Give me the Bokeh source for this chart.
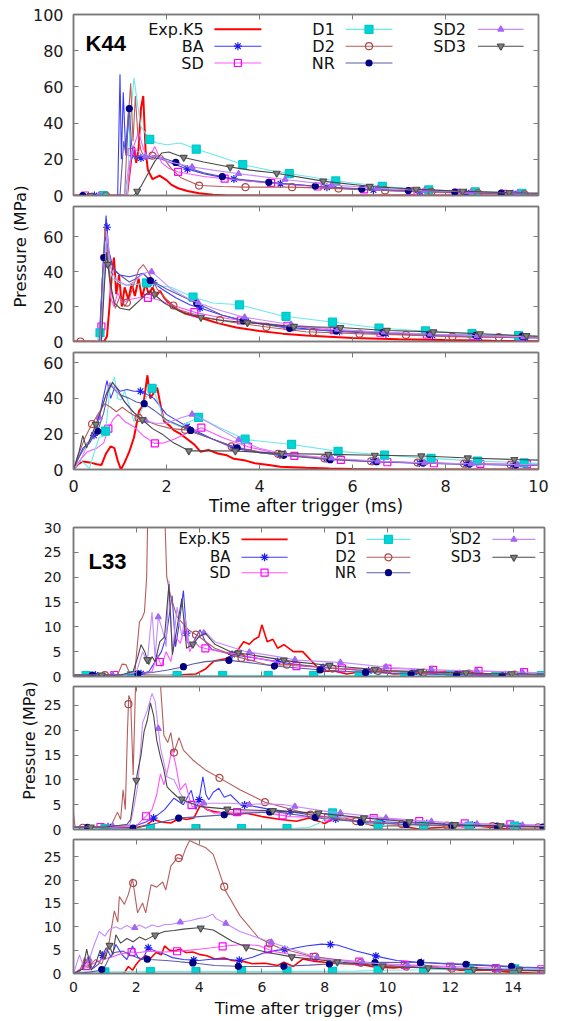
import numpy as np
from bokeh.plotting import figure
from bokeh.layouts import column, row
from bokeh.models import Range1d, LinearAxis, FixedTicker, Label
from bokeh.core.properties import value
from bokeh.embed import file_html
from bokeh.resources import INLINE

# ---------------- data ----------------
series_names = ["Exp.K5", "BA", "SD", "D1", "D2", "NR", "SD2", "SD3"]
x_ticks_k44 = [0, 2, 4, 6, 8, 10]
x_ticks_l33 = [0, 2, 4, 6, 8, 10, 12, 14]
y_ticks_k1 = [0, 20, 40, 60, 80, 100]
y_ticks_k23 = [0, 20, 40, 60]
y_ticks_l1 = [0, 5, 10, 15, 20, 25, 30]
y_ticks_l23 = [0, 5, 10, 15, 20, 25]
x_title = "Time after trigger (ms)"
y_title = "Pressure (MPa)"

# ---- K44, top panel ----
k1_exp_t = [0, 1.15, 1.25, 1.3, 1.35, 1.4, 1.45, 1.5, 1.55, 1.6, 1.7, 1.85, 2.0, 2.1, 2.25, 2.45, 2.7, 3.0, 3.3, 4.0, 10]
k1_exp_p = [0, 0, 22, 27, 18, 26, 48, 55, 25, 14, 9, 11, 8.5, 6, 4, 2.5, 1.2, 0.4, 0, 0, 0]
k1_ba_t = [0, 0.95, 1.0, 1.03, 1.07, 1.12, 1.18, 1.24, 1.3, 1.4, 1.55, 1.7, 1.9, 2.1, 2.4, 2.8, 3.2, 3.6, 4.2, 5.0, 6.0, 7.0, 8.0, 9.0, 10.0]
k1_ba_p = [0, 0, 67, 20, 57, 25, 46, 20, 22, 21, 20, 21, 20, 18, 15, 12, 10, 8.5, 7, 5.5, 3.5, 2.5, 1.8, 1.2, 0.8]
k1_sd_t = [0, 1.15, 1.25, 1.4, 1.5, 1.6, 1.75, 1.9, 2.05, 2.25, 2.8, 3.35, 4.0, 4.7, 5.5, 6.5, 7.5, 8.5, 9.5, 10]
k1_sd_p = [0, 0, 24, 35, 26, 20, 27, 18, 15, 13, 10.5, 9, 7.5, 6, 4.5, 3, 2, 1.2, 0.8, 0.6]
k1_d1_t = [0, 1.15, 1.22, 1.3, 1.38, 1.45, 1.64, 1.8, 2.0, 2.3, 2.65, 3.2, 3.65, 4.2, 4.66, 5.66, 6.67, 7.67, 8.7, 9.7, 10]
k1_d1_p = [0, 0, 40, 65, 50, 38, 31, 29, 28, 29, 25.5, 21, 17, 14, 12, 8, 5, 3, 2, 1.2, 1]
k1_d2_t = [0, 1.1, 1.17, 1.23, 1.28, 1.33, 1.38, 1.45, 1.55, 1.7, 1.9, 2.1, 2.3, 2.7, 3.2, 3.7, 4.7, 5.7, 6.7, 7.7, 8.7, 9.7, 10]
k1_d2_p = [0, 0, 40, 62, 30, 55, 35, 25, 20, 22, 22, 15, 10, 5.5, 5, 4.6, 4.6, 3.8, 2.8, 2, 1.3, 0.8, 0.7]
k1_nr_t = [0, 1.0, 1.08, 1.13, 1.2, 1.25, 1.32, 1.4, 1.55, 1.75, 2.0, 2.2, 2.5, 2.8, 3.43, 4.2, 5.3, 6.25, 7.3, 8.3, 9.3, 10]
k1_nr_p = [0, 0, 30, 22, 48, 28, 20, 22, 21, 22, 20, 18.3, 15, 12.5, 9.3, 7.3, 5, 3.5, 2.7, 1.8, 1.2, 1]
k1_sd2_t = [0, 1.1, 1.2, 1.3, 1.45, 1.6, 1.8, 2.0, 2.5, 3.0, 3.56, 4.5, 5.5, 6.5, 7.5, 8.5, 9.5, 10]
k1_sd2_p = [0, 0, 18, 26, 23, 21, 22, 19, 16, 14, 12, 9, 6, 4, 2.8, 2, 1.3, 1.1]
k1_sd3_t = [0, 1.3, 1.45, 1.6, 1.75, 1.9, 2.05, 2.37, 2.8, 3.3, 3.8, 4.3, 5.4, 6.4, 7.4, 8.4, 9.4, 10]
k1_sd3_p = [0, 0, 5, 12, 19, 23.5, 24, 21, 18.5, 16, 14, 12.6, 7.8, 5, 3.4, 2.3, 1.6, 1.3]

# ---- K44, middle panel ----
k2_exp_t = [0, 0.66, 0.72, 0.78, 0.83, 0.87, 0.92, 0.98, 1.04, 1.1, 1.18, 1.25, 1.32, 1.4, 1.47, 1.55, 1.62, 1.7, 1.78, 1.86,
            1.95, 2.05, 2.2, 2.4, 2.6, 2.8, 3.1, 3.5, 4.0, 4.5, 5.0, 6.0, 7.0, 8.0, 9.0, 10.0]
k2_exp_p = [0, 0, 3, 22, 40, 48, 27, 38, 20, 31, 24, 33, 26, 36, 25, 33, 27, 31, 26, 29,
            25, 22, 19, 16, 14.5, 13, 10.5, 8, 6, 4.5, 3.5, 2, 1.3, 0.8, 0.4, 0.2]
k2_ba_t = [0, 0.55, 0.62, 0.7, 0.76, 0.85, 1.0, 1.2, 1.35, 1.5, 1.65, 1.9, 2.2, 2.5, 2.74, 3.2, 3.74, 4.5, 5.5, 6.5, 7.5, 8.5, 9.5, 10]
k2_ba_p = [0, 0, 35, 72, 52, 42, 38, 37, 38, 39, 35, 30, 25, 21, 19, 15, 11.5, 8.5, 6, 4.6, 3.6, 2.8, 2.2, 2]
k2_sd_t = [0, 0.58, 0.65, 0.72, 0.8, 0.87, 0.95, 1.05, 1.2, 1.4, 1.6, 1.8, 2.1, 2.63, 3.1, 3.6, 4.6, 5.6, 6.6, 7.6, 8.6, 9.6, 10]
k2_sd_p = [0, 0, 30, 58, 25, 20, 28, 22, 24, 25, 25, 24, 21, 16.5, 14, 12, 9, 6.5, 5, 4, 3, 2.5, 2.3]
k2_d1_t = [0, 0.5, 0.57, 0.63, 0.7, 0.76, 0.85, 1.0, 1.2, 1.57, 1.8, 2.1, 2.56, 3.0, 3.56, 4.0, 4.5, 5.59, 6.6, 7.6, 8.6, 9.6, 10]
k2_d1_p = [0, 0, 5, 30, 58, 42, 36, 33, 32, 33.5, 32, 31, 25.5, 22, 21, 18, 14.6, 11, 7.6, 6, 4.4, 3.3, 3]
k2_d2_t = [0, 0.56, 0.62, 0.68, 0.75, 0.82, 0.9, 1.0, 1.1, 1.2, 1.3, 1.4, 1.5, 1.6, 1.8, 2.0, 2.25, 2.8, 3.4, 4.24, 5.0, 6.1, 7.1, 8.1, 9.1, 10]
k2_d2_p = [0, 0, 35, 66, 45, 28, 19, 26, 20, 24.5, 33, 41, 44, 40, 30, 24, 18.3, 14, 11, 8, 5.6, 4.5, 3.8, 2.8, 2.5, 2.2]
k2_nr_t = [0, 0.57, 0.62, 0.68, 0.73, 0.8, 0.9, 1.05, 1.2, 1.35, 1.5, 1.64, 1.8, 2.0, 2.4, 2.8, 3.2, 3.74, 4.7, 5.7, 6.75, 7.75, 8.75, 9.75, 10]
k2_nr_p = [0, 0, 36, 60, 55, 45, 40, 37, 34, 36, 39, 35, 33, 30, 25, 20, 15, 11.2, 7.3, 6, 5, 4, 3.5, 3, 2.9]
k2_sd2_t = [0, 0.58, 0.65, 0.72, 0.8, 0.9, 1.0, 1.15, 1.3, 1.45, 1.65, 1.85, 2.1, 2.5, 3.0, 3.65, 4.6, 5.6, 6.6, 7.6, 8.6, 9.6, 10]
k2_sd2_p = [0, 0, 30, 62, 42, 36, 34, 32, 34, 38, 40.5, 36, 30, 24, 19, 14, 10, 7, 5.4, 4.3, 3.4, 2.8, 2.6]
k2_sd3_t = [0, 0.6, 0.66, 0.71, 0.78, 0.88, 1.0, 1.2, 1.4, 1.64, 1.74, 1.95, 2.3, 2.76, 3.2, 3.74, 4.73, 5.73, 6.75, 7.75, 8.75, 9.75, 10]
k2_sd3_p = [0, 0, 30, 51, 35, 22, 19, 18, 23, 29, 27, 22, 17, 13.7, 12, 10.8, 8.6, 8, 6.3, 5.5, 4.4, 3.3, 3]

# ---- K44, bottom panel ----
k3_exp_t = [0, 0.1, 0.2, 0.35, 0.5, 0.6, 0.7, 0.8, 0.88, 0.95, 1.02, 1.1, 1.2, 1.3, 1.41, 1.5, 1.59, 1.65, 1.7, 1.8,
            1.88, 1.95, 2.05, 2.16, 2.3, 2.45, 2.6, 2.73, 2.9, 3.1, 3.3, 3.45, 3.7, 3.9, 4.2, 4.45, 5.0, 5.5, 6.0, 7.0, 10.0]
k3_exp_p = [0, 3, 4.5, 4, 3, 2.5, 9, 13, 12, 5, 0, 4, 10, 18, 33, 36, 53, 40, 42, 46,
            35, 27, 25, 22, 20, 17, 14, 10, 11, 9, 8, 6, 5, 3.5, 2.5, 1.5, 1, 0.6, 0.3, 0, 0]
k3_ba_t = [0, 0.08, 0.2, 0.35, 0.5, 0.62, 0.72, 0.8, 0.9, 1.0, 1.15, 1.3, 1.44, 1.6, 1.73, 2.0, 2.45, 3.0, 3.45, 4.0, 4.5, 5.5, 6.5, 7.5, 8.5, 9.5, 10]
k3_ba_p = [0, 5, 12, 15, 22, 38, 50, 40, 47, 44, 45, 44, 44, 42, 40, 31, 24, 17, 12, 9.5, 8, 6, 4.5, 3.6, 3, 2.5, 2.3]
k3_sd_t = [0, 0.1, 0.3, 0.5, 0.65, 0.75, 0.85, 0.96, 1.1, 1.3, 1.5, 1.74, 1.95, 2.16, 2.45, 2.75, 3.2, 3.77, 4.3, 4.8, 5.8, 6.8, 7.8, 8.8, 9.8, 10]
k3_sd_p = [0, 4, 10, 12, 15, 23, 28, 31, 27, 24, 19, 14.7, 15, 17, 20.5, 23.5, 18, 12.7, 9.5, 7.5, 5.3, 4, 3.5, 3.2, 3, 3]
k3_d1_t = [0, 0.15, 0.25, 0.34, 0.45, 0.55, 0.68, 0.78, 0.88, 0.95, 1.02, 1.1, 1.2, 1.3, 1.42, 1.55, 1.7, 1.82, 1.95, 2.3,
           2.7, 3.1, 3.71, 4.7, 5.7, 6.8, 7.75, 8.75, 9.75, 10]
k3_d1_p = [0, 5, 3, 0.5, 10, 18, 19, 45, 52, 40, 39, 44, 36, 27, 30, 40, 46, 38, 28, 24,
           29.5, 24, 16.8, 14.1, 10.2, 7.9, 6.1, 4.7, 3.7, 3.5]
k3_d2_t = [0, 0.1, 0.25, 0.38, 0.5, 0.67, 0.8, 0.92, 1.05, 1.2, 1.4, 1.6, 1.8, 2.1, 2.4, 2.9, 3.4, 4.0, 4.5, 5.5, 6.5, 7.5, 8.5, 9.5, 10]
k3_d2_p = [0, 8, 18, 24.7, 30, 37, 35, 32.5, 35, 32, 29, 27, 25, 23, 22.3, 18, 13, 10, 8.5, 6, 4.5, 3.8, 3.2, 2.7, 2.5]
k3_nr_t = [0, 0.1, 0.3, 0.52, 0.65, 0.78, 0.88, 1.0, 1.2, 1.35, 1.52, 1.75, 2.0, 2.52, 3.0, 3.5, 4.0, 4.5, 5.5, 6.5, 7.5, 8.5, 9.5, 10]
k3_nr_p = [0, 6, 15, 21.5, 32, 48, 45, 42, 40, 38, 37, 33, 28, 22, 17, 12.3, 9.5, 8, 5.5, 4.4, 3.6, 3, 2.5, 2.3]
k3_sd2_t = [0, 0.15, 0.3, 0.5, 0.65, 0.78, 0.9, 1.05, 1.25, 1.5, 1.75, 2.0, 2.3, 2.55, 2.8, 3.2, 3.6, 4.0, 4.5, 5.5, 6.5, 7.5, 8.5, 9.5, 10]
k3_sd2_p = [0, 5, 14, 25, 38, 49, 45, 40, 33, 28, 26, 26, 29, 31, 28, 22, 16, 12, 9, 6.5, 4.8, 3.8, 3.2, 2.8, 2.6]
k3_sd3_t = [0, 0.12, 0.2, 0.28, 0.4, 0.55, 0.7, 0.84, 0.95, 1.1, 1.3, 1.48, 1.7, 1.9, 2.15, 2.48, 3.0, 3.48, 4.5, 5.5, 6.5, 7.5, 8.5, 9.5, 10]
k3_sd3_p = [0, 10, 19, 12, 20, 30, 42, 49, 45, 38, 32, 28, 23, 20, 15, 10.5, 10.5, 10.4, 9, 8.5, 8, 7.6, 6.5, 5.6, 5.3]

# ---- L33, top panel ----
l1_exp_t = [0, 1.0, 2.0, 3.0, 3.9, 4.2, 4.47, 4.8, 5.1, 5.25, 5.42, 5.6, 5.74, 5.9, 6.0, 6.17, 6.35, 6.5, 6.7, 7.0,
            7.3, 7.6, 7.9, 8.3, 8.7, 9.2, 9.7, 10.2, 10.7, 11.5, 12.4, 13.2, 14.0, 15.0]
l1_exp_p = [0.3, 0.2, 0.3, 0.2, 0.5, 1.5, 3.1, 3.5, 4.4, 5.5, 7, 6.5, 7.4, 8, 10.4, 7, 7.5, 5.7, 6.4, 5,
            5, 3, 1, 1.1, 0.5, 1, 1, 0.5, 0.6, 0.8, 1.1, 0.5, 0.3, 0.1]
l1_ba_t = [0, 2.0, 2.4, 2.6, 2.8, 2.95, 3.14, 3.25, 3.35, 3.5, 3.62, 3.75, 3.9, 4.03, 4.2, 4.4, 4.7, 5.0, 5.5, 6.0, 7.0, 8.0, 9.0, 10.0, 11.5, 13.0, 15.0]
l1_ba_p = [0.3, 0.3, 1, 3, 5, 8, 16.3, 6, 10, 17.3, 7, 6, 8, 9.4, 7, 5.5, 5, 4.5, 4, 3.5, 2.5, 1.8, 1.3, 1, 0.7, 0.4, 0.3]
l1_sd_t = [0, 2.0, 2.5, 2.67, 2.8, 2.95, 3.1, 3.25, 3.4, 3.55, 3.7, 3.85, 4.0, 4.3, 4.7, 5.2, 6.0, 7.1, 8.6, 10.1, 11.6, 13.1, 14.7, 15.0]
l1_sd_p = [0.3, 0.3, 1, 4.4, 2, 5, 3, 8, 6.7, 10, 5, 7, 6, 5.5, 5, 4.5, 3.5, 2.1, 1.6, 1.6, 1.3, 1.1, 0.8, 0.8]
l1_d1_t = [0, 3, 6, 9, 12, 15]
l1_d1_p = [0.2, 0.2, 0.2, 0.2, 0.2, 0.2]
l1_d2_t = [0, 1.4, 1.55, 1.67, 1.8, 1.95, 2.1, 2.18, 2.26, 2.33, 2.4, 2.6, 2.85, 2.92, 2.97, 3.1, 3.3, 3.66, 4.0, 4.5,
           5.2, 6.2, 7.0, 8.24, 9.67, 11.1, 12.6, 14.0, 15.0]
l1_d2_p = [0.2, 0.3, 2.5, 2.4, 0.5, 0.5, 11, 11.7, 13, 20, 45, 50, 45, 30, 20, 16, 12, 9.4, 8, 5.7,
           4, 2.3, 2.4, 1.6, 1.1, 0.8, 0.6, 0.4, 0.3]
l1_nr_t = [0, 1.5, 2.0, 2.5, 3.0, 3.4, 3.8, 4.2, 4.9, 5.6, 6.4, 7.9, 9.35, 10.9, 12.3, 13.8, 15.0]
l1_nr_p = [0.3, 0.3, 0.5, 0.8, 1.3, 1.8, 2.5, 3.0, 3.3, 2.8, 2.1, 1.3, 0.8, 0.5, 0.3, 0.1, 0.1]
l1_sd2_t = [0, 1.5, 2.0, 2.2, 2.35, 2.5, 2.6, 2.7, 2.85, 2.95, 3.04, 3.15, 3.3, 3.45, 3.55, 3.7, 3.9, 4.2, 4.5, 5.0,
            5.5, 6.5, 7.1, 8.6, 10.1, 12.0, 14.5, 15.0]
l1_sd2_p = [0.3, 0.3, 0.8, 5, 3, 13, 3.8, 12, 9, 6, 19.3, 5, 14, 8, 12, 6, 7.5, 9, 7, 6,
            5, 4, 3.3, 2.8, 1.8, 1.2, 0.8, 0.8]
l1_sd3_t = [0, 1.5, 1.9, 2.05, 2.15, 2.27, 2.4, 2.5, 2.6, 2.75, 2.9, 3.04, 3.15, 3.3, 3.45, 3.6, 3.8, 4.0, 4.2, 4.5,
            5.0, 6.0, 7.0, 8.5, 10.0, 11.5, 13.0, 15.0]
l1_sd3_p = [0.3, 0.3, 1, 4, 6.4, 5, 2.4, 4, 3, 7, 8, 18.6, 4.4, 10, 15.7, 5.7, 6.5, 8, 8.7, 6.5,
            5, 4, 3, 2, 1.2, 0.9, 0.6, 0.5]

# ---- L33, middle panel ----
l2_exp_t = [0, 1.0, 2.0, 2.3, 2.56, 2.8, 3.1, 3.4, 3.6, 3.83, 4.05, 4.25, 4.47, 4.8, 5.1, 5.5, 6.0, 6.6, 7.1, 7.5,
            8.0, 8.4, 9.0, 9.6, 10.3, 11.0, 11.8, 12.8, 13.9, 15.0]
l2_exp_p = [0.3, 0.2, 0.4, 0.8, 2, 1.5, 1.3, 2.3, 2, 2.3, 5, 4, 3.6, 3.3, 3, 3.3, 2.6, 2, 1.65, 2.3,
            1.2, 2.6, 1.65, 0.7, 0.8, 0.1, 0.5, 0.7, 0.1, 0]
l2_ba_t = [0, 1.0, 2.0, 2.3, 2.55, 2.9, 3.2, 3.5, 3.75, 3.9, 4.0, 4.12, 4.22, 4.31, 4.45, 4.63, 4.8, 5.0, 5.32, 5.62,
           6.3, 7.0, 8.6, 10.0, 12.0, 14.0, 15.0]
l2_ba_p = [0.5, 0.5, 0.8, 1.5, 2.3, 4, 6.3, 5, 7.9, 4, 6, 10.6, 7, 6, 7.5, 8.3, 6.5, 7, 5, 4.8,
           4, 3.5, 1.85, 1.5, 1, 0.8, 0.6]
l2_sd_t = [0, 1.0, 2.0, 2.3, 2.5, 2.65, 2.77, 2.88, 3.0, 3.14, 3.25, 3.4, 3.57, 3.7, 3.78, 4.0, 4.47, 5.0, 6.0, 6.9,
           8.2, 9.6, 11.1, 12.6, 14.1, 15.0]
l2_sd_p = [0.5, 0.5, 0.8, 2.6, 4, 7, 11.2, 9, 12, 16.2, 13.2, 8, 9.3, 6, 4.6, 5, 3.3, 3.5, 3.5, 2.6,
           2.4, 2.3, 1.65, 1.2, 1.0, 0.9]
l2_d1_t = [0, 6.9, 7.5, 7.9, 8.18, 8.4, 8.7, 9.2, 10.1, 11.6, 13.1, 14.6, 15.0]
l2_d1_p = [0.2, 0.2, 0.4, 1.5, 3.6, 2.8, 2, 1.2, 0.7, 0.7, 0.7, 0.7, 0.7]
l2_d2_t = [0, 0.05, 0.2, 1.2, 1.4, 1.5, 1.58, 1.65, 1.72, 1.76, 1.82, 1.9, 1.98, 2.1, 2.3, 2.6, 2.75, 2.88, 3.0, 3.1,
           3.2, 3.36, 3.5, 3.8, 4.2, 4.65, 5.3, 6.1, 7.55, 9.0, 10.4, 11.8, 13.2, 14.6, 15.0]
l2_d2_p = [3.3, 0.5, 0.3, 0.8, 3.5, 2, 8, 4, 20, 27, 26, 11, 30, 40, 40, 35, 31, 19, 17.5, 19.5,
           15.5, 18.5, 16, 14, 12, 10.4, 8, 5.5, 3, 1.7, 1.1, 0.8, 0.7, 0.5, 0.4]
l2_nr_t = [0, 1.0, 2.0, 2.6, 3.35, 4.0, 4.9, 5.6, 6.4, 7.93, 9.46, 11.0, 12.5, 14.0, 15.0]
l2_nr_p = [0.5, 0.3, 0.3, 1.2, 2.3, 2.6, 3, 3.3, 3.6, 2.2, 1.3, 0.9, 0.8, 0.6, 0.5]
l2_sd2_t = [0, 1.0, 1.8, 1.92, 2.05, 2.2, 2.35, 2.5, 2.6, 2.77, 2.98, 3.2, 3.4, 3.62, 4.0, 5.0, 5.6, 6.0, 6.7, 8.1,
            10.0, 12.0, 14.0, 15.0]
l2_sd2_p = [0.5, 0.5, 1, 4.3, 9, 21.5, 24, 27.4, 25.8, 16.5, 10.6, 10, 7.3, 5.3, 5.3, 5.3, 5, 5.2, 5, 3.6,
            2.3, 1.3, 0.9, 0.8]
l2_sd3_t = [0, 1.0, 1.7, 1.82, 2.03, 2.15, 2.25, 2.35, 2.45, 2.55, 2.65, 2.77, 2.88, 2.98, 3.15, 3.3, 3.62, 4.05, 5.1, 6.3,
            7.8, 9.3, 10.8, 12.3, 13.8, 15.0]
l2_sd3_p = [0.5, 0.5, 1, 2, 11.2, 15, 19.8, 22, 25.5, 23, 18, 14.6, 12, 8.6, 7.5, 6.6, 5.6, 4.6, 4, 3.8,
            3.3, 2.3, 1.5, 0.9, 0.7, 0.6]

# ---- L33, bottom panel ----
l3_exp_t = [0, 1.0, 1.6, 1.75, 1.88, 2.0, 2.1, 2.3, 2.45, 2.63, 2.8, 2.9, 3.05, 3.2, 3.4, 3.58, 3.8, 4.0, 4.25, 4.5,
            4.8, 5.05, 5.4, 5.7, 6.1, 6.5, 6.7, 7.0, 7.3, 7.7, 8.0, 8.6, 9.1, 9.6, 10.2, 10.7, 11.2, 11.8, 12.3, 13.3,
            13.9, 14.9]
l3_exp_p = [0, 0, 0, 1.5, 0.7, 2, 2.8, 3.8, 3.2, 4.5, 4, 5.9, 5, 4.8, 5.2, 4.5, 4.6, 4.1, 3.8, 3.1,
            3.3, 2.8, 2.6, 2.1, 2.2, 1.7, 2.4, 1.5, 3.1, 2.6, 2.4, 2.1, 2, 1.4, 1.2, 1.5, 1.7, 1.2, 0.7, 0.7,
            0.3, 0]
l3_ba_t = [0, 0.3, 0.46, 0.6, 0.8, 1.04, 1.2, 1.35, 1.55, 1.7, 1.88, 2.05, 2.2, 2.38, 2.55, 2.73, 2.95, 3.15, 3.5, 4.0,
           4.45, 5.0, 5.3, 5.7, 6.1, 6.5, 6.86, 7.4, 7.9, 8.4, 9.0, 9.85, 10.3, 11.0, 12.0, 13.0, 14.0, 15.0]
l3_ba_p = [0, 1, 3.5, 1, 2, 5.5, 3.5, 6.2, 4, 3, 5.9, 3.5, 3, 5.5, 5, 4.5, 4, 3.4, 3, 2.8,
           3.1, 3, 2.8, 3.5, 4.5, 5, 5.2, 5.9, 6.3, 6.1, 4.8, 3.4, 2.8, 2.4, 2, 1.7, 1.4, 1]
l3_sd_t = [0, 0.3, 0.6, 0.9, 1.2, 1.5, 1.86, 2.1, 2.4, 2.9, 3.37, 3.7, 4.0, 4.4, 4.85, 5.4, 5.9, 6.33, 7.0, 8.4,
           10.0, 12.0, 14.0, 15.0]
l3_sd_p = [0, 1.4, 2, 3, 3.5, 4.2, 4.6, 4.5, 4.8, 4.6, 4.8, 5, 5.2, 5.5, 5.9, 6.2, 6, 4.8, 4, 3,
           2, 1.5, 1, 0.9]
l3_d1_t = [0, 3, 6, 9, 10, 11.3, 12.8, 14.3, 15.0]
l3_d1_p = [0.3, 0.4, 0.4, 0.5, 0.7, 0.8, 1, 1, 1]
l3_d2_t = [0, 0.2, 0.35, 0.5, 0.7, 0.9, 1.14, 1.3, 1.41, 1.46, 1.62, 1.75, 1.88, 2.04, 2.2, 2.3, 2.47, 2.65, 2.84, 2.94,
           3.1, 3.31, 3.45, 3.58, 3.7, 4.0, 4.2, 4.45, 4.85, 5.3, 5.9, 6.54, 7.5, 8.5, 9.5, 10.8, 12.3, 13.7, 15.0]
l3_d2_p = [0, 0.5, 3.4, 1.5, 3, 2, 6.9, 13.4, 11, 16.5, 14.8, 17, 20.3, 13, 15.1, 13, 19, 18.5, 19.6, 17.9,
           23, 24.8, 24.5, 26.9, 28.5, 27.5, 27, 25.5, 17.6, 12.4, 7.6, 5.5, 3.8, 2.8, 2.0, 1.4, 1, 0.7, 0.5]
l3_nr_t = [0, 0.5, 0.88, 1.0, 1.14, 1.3, 1.57, 1.8, 2.1, 2.43, 2.94, 3.4, 3.9, 4.5, 5.4, 6.2, 6.87, 7.5, 8.3, 9.8,
           11.3, 12.8, 14.3, 15.0]
l3_nr_p = [0, 0.3, 0.7, 1.5, 3.4, 4.5, 4.8, 4, 3.2, 3, 2.8, 2.5, 2.2, 1.7, 1.5, 1.5, 1.6, 1.8, 2.1, 2.4,
           2.3, 1.9, 1.4, 1.2]
l3_sd2_t = [0, 0.19, 0.35, 0.5, 0.65, 0.82, 1.0, 1.15, 1.35, 1.5, 1.7, 1.9, 2.1, 2.3, 2.5, 2.7, 2.9, 3.1, 3.4, 3.7,
            4.0, 4.2, 4.43, 4.55, 4.85, 5.3, 5.9, 6.5, 7.9, 9.0, 11.0, 13.0, 15.0]
l3_sd2_p = [0, 4, 1, 3, 6, 9, 8, 9.5, 10, 9.5, 10.3, 9.6, 10.4, 9.7, 10.4, 10, 10.5, 10.5, 11, 11.3,
            11.8, 12, 12.7, 11.7, 10.7, 9, 7.6, 6.2, 3.1, 2.5, 1.5, 1, 0.8]
l3_sd3_t = [0, 0.3, 0.42, 0.56, 0.7, 0.85, 1.0, 1.14, 1.25, 1.35, 1.5, 1.7, 1.9, 2.1, 2.3, 2.5, 2.7, 2.9, 3.2, 3.5,
            3.98, 4.45, 5.05, 5.56, 6.2, 7.0, 8.55, 10.0, 12.0, 15.0]
l3_sd3_p = [0, 1, 5.2, 0.7, 2, 5, 3, 6.2, 4, 8.3, 6.5, 7.5, 6.8, 7.8, 7.2, 7.9, 8.5, 9, 9.2, 9.5,
            9.8, 9.3, 6.9, 5.5, 4.5, 3.5, 2.4, 1.5, 1, 0.6]

# ---------------- styles ----------------
FONT = "DejaVu Sans"
AXC = "#7a7a7a"
STYLE = {
    "Exp.K5": dict(line="#ff0000", lw=2.0, marker=None),
    "BA":  dict(line="#3b3bff", lw=1.1, marker="asterisk", mline="#1c1cf0", mfill=None, size=8),
    "SD":  dict(line="#ff55ff", lw=1.1, marker="square", mline="#ff00ff", mfill=None, size=7),
    "D1":  dict(line="#6be9e9", lw=1.1, marker="square", mline="#00c8c8", mfill="#00d4d4", size=8),
    "D2":  dict(line="#b85c5c", lw=1.1, marker="circle", mline="#b04848", mfill=None, size=7),
    "NR":  dict(line="#5c5ca8", lw=1.1, marker="circle", mline="#000080", mfill="#000080", size=6),
    "SD2": dict(line="#c48cff", lw=1.1, marker="triangle", mline="#a466f5", mfill="#a466f5", size=6),
    "SD3": dict(line="#484848", lw=1.1, marker="inverted_triangle", mline="#505050", mfill="#808080", size=7),
}


def marker_points(t, p, off, step, tmax):
    mt = np.arange(off, tmax, step)
    return mt, np.interp(mt, t, p)


def style_axis(ax, fs, show, standoff):
    ax.axis_line_color = AXC
    ax.axis_line_width = 1.5
    ax.major_tick_line_color = AXC
    ax.major_tick_line_width = 1
    ax.major_tick_in = 5
    ax.major_tick_out = 0
    ax.minor_tick_line_color = None
    ax.major_label_text_font = FONT
    if show:
        ax.major_label_text_color = "#1a1a1a"
        ax.major_label_text_font_size = fs
        ax.major_label_standoff = standoff
    else:
        ax.major_label_text_color = None
        ax.major_label_text_font_size = "0px"
        ax.major_label_standoff = 0


def panel(w, h, xr, yr, xt, yt, mb, fs, data, offs, step, show_x=False, title_fs="17px",
          x_standoff=7, y_standoff=9, title_standoff=0, exp_lw=2.0):
    p = figure(width=w, height=h, x_range=Range1d(*xr), y_range=Range1d(*yr),
               output_backend="svg", toolbar_location=None,
               min_border_left=mb[0], min_border_right=mb[1],
               min_border_top=mb[2], min_border_bottom=mb[3])
    p.grid.visible = False
    p.outline_line_color = AXC
    p.outline_line_width = 1.5
    p.background_fill_color = "white"
    p.border_fill_color = "white"
    p.xaxis.ticker = FixedTicker(ticks=xt)
    p.yaxis.ticker = FixedTicker(ticks=yt)
    style_axis(p.xaxis[0], fs, show_x, x_standoff)
    style_axis(p.yaxis[0], fs, True, y_standoff)
    if show_x:
        p.xaxis.axis_label = x_title
        p.xaxis.axis_label_text_font = FONT
        p.xaxis.axis_label_text_font_size = title_fs
        p.xaxis.axis_label_text_font_style = "normal"
        p.xaxis.axis_label_text_color = "#111111"
        p.xaxis.axis_label_standoff = title_standoff
    top = LinearAxis(ticker=FixedTicker(ticks=xt))
    style_axis(top, fs, False, 0)
    p.add_layout(top, "above")
    right = LinearAxis(ticker=FixedTicker(ticks=yt))
    style_axis(right, fs, False, 0)
    p.add_layout(right, "right")

    for name in series_names:
        t, v = data[name]
        st = STYLE[name]
        lw = exp_lw if name == "Exp.K5" else st["lw"]
        p.line(t, v, line_color=st["line"], line_width=lw)
        if st["marker"]:
            mt, mv = marker_points(t, v, offs[name], step, xr[1])
            p.scatter(mt, mv, marker=st["marker"], size=st["size"], line_color=st["mline"],
                      fill_color=st["mfill"], line_width=1.2)
    return p


def legend(p, cols_text_x, cols_line, rows_y, fs, exp_lw):
    for i, name in enumerate(series_names):
        c, r = divmod(i, 3)
        st = STYLE[name]
        y = rows_y[r]
        p.text(x=[cols_text_x[c]], y=[y], text=[name], text_align="right", text_baseline="middle",
               text_font=value(FONT), text_font_size=fs, text_color="#111111")
        x0, x1 = cols_line[c]
        lw = exp_lw if name == "Exp.K5" else st["lw"]
        p.segment(x0=[x0], y0=[y], x1=[x1], y1=[y], line_color=st["line"], line_width=lw)
        if st["marker"]:
            p.scatter([(x0 + x1) / 2], [y], marker=st["marker"], size=st["size"], line_color=st["mline"],
                      fill_color=st["mfill"], line_width=1.2)


def tag(p, x, y, text, fs):
    p.text(x=[x], y=[y], text=[text], text_align="left", text_baseline="alphabetic",
           text_font=value("Liberation Sans"), text_font_size=fs, text_font_style="bold", text_color="black")


def label_fig(w, h, cx, cy, fs):
    f = figure(width=w, height=h, x_range=Range1d(0, w), y_range=Range1d(0, h),
               output_backend="svg", toolbar_location=None, min_border=0,
               x_axis_type=None, y_axis_type=None)
    f.outline_line_color = None
    f.grid.visible = False
    f.border_fill_color = "white"
    f.background_fill_color = "white"
    f.add_layout(Label(x=cx, y=cy, text=y_title, angle=np.pi / 2, text_align="center",
                       text_baseline="middle", text_font=FONT, text_font_size=fs, text_color="#111111"))
    return f


def d(prefix):
    g = globals()
    keys = {"Exp.K5": "exp", "BA": "ba", "SD": "sd", "D1": "d1", "D2": "d2", "NR": "nr", "SD2": "sd2", "SD3": "sd3"}
    return {n: (g[f"{prefix}_{k}_t"], g[f"{prefix}_{k}_p"]) for n, k in keys.items()}


def offs(vals):
    return dict(zip(series_names, vals))


# ---------------- top group (K44) ----------------
WA = 524
k1 = panel(WA, 205, (0, 10), (0, 100), x_ticks_k44, y_ticks_k1, (41, 15, 14, 10), "16px", d("k1"),
           offs([0, 0.45, 0.25, 0.64, 0.7, 0.2, 0.55, 0.37]), 1.0, y_standoff=10)
k2 = panel(WA, 146, (0, 10), (0, 77.2), x_ticks_k44, y_ticks_k23, (41, 15, 1, 10), "16px", d("k2"),
           offs([0, 0.72, 0.6, 0.57, 0.15, 0.65, 0.68, 0.74]), 1.0, y_standoff=10)
k3 = panel(WA, 167, (0, 10), (0, 65.8), x_ticks_k44, y_ticks_k23, (41, 15, 1, 47), "16px", d("k3"),
           offs([0, 0.44, 0.75, 0.69, 0.4, 0.52, 0.55, 0.48]), 1.0, show_x=True, title_fs="17px",
           x_standoff=10, y_standoff=10, title_standoff=1)
legend(k1, [2.80, 5.62, 8.44], [(3.03, 4.04), (5.85, 6.86), (8.70, 9.68)], [91.8, 82.5, 73.2], "16px", 2.0)
tag(k1, 0.26, 84.2, "K44", "22px")

# ---------------- bottom group (L33) ----------------
WB = 515
l1 = panel(WB, 167, (0, 15), (0, 30), x_ticks_l33, y_ticks_l1, (35, 9, 9, 9), "14px", d("l1"),
           offs([0, 0.7, 1.3, 0.4, 1.0, 0.6, 1.25, 0.9]), 1.45, exp_lw=1.6, y_standoff=12)
l2 = panel(WB, 153, (0, 15), (0, 28.8), x_ticks_l33, y_ticks_l23, (35, 9, 1, 9), "14px", d("l2"),
           offs([0, 1.1, 0.86, 1.0, 0.3, 0.45, 1.25, 0.55]), 1.45, exp_lw=1.6, y_standoff=12)
l3 = panel(WB, 182, (0, 15), (0, 28.7), x_ticks_l33, y_ticks_l23, (35, 9, 1, 43), "14px", d("l3"),
           offs([0, 0.93, 0.4, 1.0, 0.45, 0.9, 0.5, 1.15]), 1.45, show_x=True, title_fs="16.5px",
           x_standoff=8, y_standoff=12, title_standoff=4, exp_lw=1.6)
legend(l1, [5.0, 9.01, 12.99], [(5.35, 6.82), (9.33, 10.73), (13.34, 14.71)], [27.6, 24.0, 20.9], "15px", 1.6)
tag(l1, 0.48, 23.2, "L33", "22px")

labA = label_fig(29, 518, 19.5, 272, "16.5px")
labB = label_fig(38, 502, 28.5, 280, "16px")

layout = column(row(labA, column(k1, k2, k3, spacing=0), spacing=0),
                row(labB, column(l1, l2, l3, spacing=0), spacing=0), spacing=0)

open("out.html", "w").write(file_html(layout, INLINE))
